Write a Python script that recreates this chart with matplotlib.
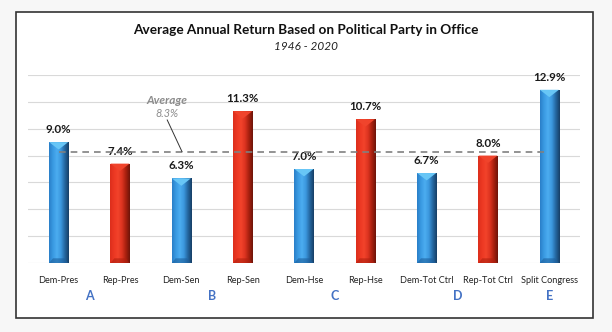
import matplotlib.pyplot as plt
import numpy as np
from matplotlib.colors import LinearSegmentedColormap
from matplotlib.patches import Rectangle, Polygon

plt.rcParams['font.family'] = ['Lato', 'DejaVu Sans']

categories = ['Dem-Pres', 'Rep-Pres', 'Dem-Sen', 'Rep-Sen', 'Dem-Hse',
              'Rep-Hse', 'Dem-Tot Ctrl', 'Rep-Tot Ctrl', 'Split Congress']
returns = [9.0, 7.4, 6.3, 11.3, 7.0, 10.7, 6.7, 8.0, 12.9]
party = ['D', 'R', 'D', 'R', 'D', 'R', 'D', 'R', 'S']
groups = ['A', 'B', 'C', 'D', 'E']
group_pos = [0.5, 2.5, 4.5, 6.5, 8.0]
average = 8.3

blue_cmap = LinearSegmentedColormap.from_list(
    'b', ['#2a7fc8', '#3a9ae2', '#4cadf0', '#3b97dd', '#24669f', '#173f66'])
red_cmap = LinearSegmentedColormap.from_list(
    'r', ['#dc2e1c', '#ec3823', '#f2432b', '#dd3420', '#a8200f', '#6e140a'])
cap_color = {'D': '#68c6f6', 'S': '#68c6f6', 'R': '#f0442c'}
base_color = {'D': '#1d5f9c', 'S': '#1d5f9c', 'R': '#b0200f'}

fig = plt.figure(figsize=(6.12, 3.32), dpi=100)
fig.patch.set_facecolor('#f7f7f7')
frame = Rectangle((16 / 612, 1 - 318 / 332), 577 / 612, 306 / 332,
                  transform=fig.transFigure, facecolor='white',
                  edgecolor='#333333', linewidth=1.2, zorder=-5)
fig.patches.append(frame)

ax = fig.add_axes([28 / 612, 69 / 332, 552 / 612, 188 / 332])
ax.set_zorder(1)
ax.set_facecolor('none')
ax.set_yticks(np.arange(0, 15, 2))
ax.yaxis.grid(True, color='#d9d9d9', linewidth=0.8)
ax.set_axisbelow(True)
for s in ax.spines.values():
    s.set_visible(False)
ax.tick_params(axis='y', left=False, labelleft=False)
ax.tick_params(axis='x', bottom=False, pad=6, colors='#222222')
ax.set_xticks(range(len(categories)))
ax.set_xticklabels(categories, fontsize=6.6)

x = np.arange(len(categories))
width = 0.31
bars = ax.bar(x, returns, width=width, color='none', zorder=2)
grad = np.linspace(0, 1, 100).reshape(1, -1)
for i, (b, v, p) in enumerate(zip(bars, returns, party)):
    cmap = red_cmap if p == 'R' else blue_cmap
    im = ax.imshow(grad, cmap=cmap, aspect='auto', zorder=2,
                   extent=(x[i] - width / 2, x[i] + width / 2, 0, v))
    im.set_clip_path(b)
    ax.add_patch(Polygon([(x[i] - width / 2, v), (x[i] + width / 2, v),
                          (x[i], v - 0.55)], closed=True,
                         facecolor=cap_color[p], edgecolor='none', zorder=3))
    ax.add_patch(Polygon([(x[i] - width / 2, 0), (x[i] + width / 2, 0),
                          (x[i] + width * 0.3, 0.35), (x[i] - width * 0.3, 0.35)],
                         closed=True, facecolor=base_color[p], alpha=0.6,
                         edgecolor='none', zorder=3))
    ax.annotate(f'{v:.1f}%', (x[i], v), xytext=(0, 5), textcoords='offset points',
                ha='center', va='bottom', fontsize=8.3, fontweight='bold',
                color='#1a1a1a')

ax.set_xlim(-0.5, len(categories) - 0.5)
ax.set_ylim(0, 14)

ax.plot([x[0], x[-1]], [average, average], linestyle=(0, (4, 3)),
        color='#808080', linewidth=1.2, zorder=4)
ax.text(1.76, 12.1, 'Average', ha='center', va='center', fontsize=8.5,
        fontstyle='italic', fontweight='bold', color='#8c8c8c')
ax.text(1.76, 11.15, f'{average:.1f}%', ha='center', va='center', fontsize=7.8,
        fontstyle='italic', color='#8c8c8c')
ax.plot([1.77, 2.01], [10.65, average], color='#333333', linewidth=0.7, zorder=4)

for g, gp in zip(groups, group_pos):
    ax.text(gp, -2.45, g, ha='center', va='center', fontsize=9,
            color='#4472c4', fontweight='bold')

fig.text(0.5, 1 - 30 / 332, 'Average Annual Return Based on Political Party in Office',
         ha='center', va='center', fontsize=9.8, fontweight='bold', color='#111111')
fig.text(0.5, 1 - 47 / 332, '1946 - 2020', ha='center', va='center',
         fontsize=8.5, fontstyle='italic', color='#222222')

fig.savefig('out.png', dpi=100, facecolor=fig.get_facecolor())
